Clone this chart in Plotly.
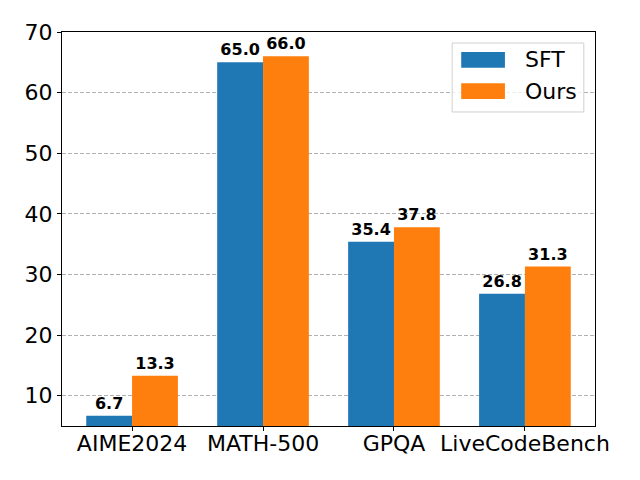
import plotly.graph_objects as go

benchmarks = ['AIME2024', 'MATH-500', 'GPQA', 'LiveCodeBench']
sft_scores = [6.7, 65.0, 35.4, 26.8]
ours_scores = [13.3, 66.0, 37.8, 31.3]
y_ticks = [10, 20, 30, 40, 50, 60, 70]

font_family = 'DejaVu Sans'
series = [('SFT', sft_scores, '#1f77b4'), ('Ours', ours_scores, '#ff7f0e')]

fig = go.Figure()
for name, vals, color in series:
    fig.add_trace(go.Bar(
        x=list(range(len(benchmarks))),
        y=vals,
        name=name,
        marker=dict(color=color, line=dict(width=0)),
        texttemplate='<b>%{y:.1f}</b>',
        textposition='outside',
        textfont=dict(size=16, color='black', family=font_family),
        cliponaxis=False,
        showlegend=False,
    ))

# matplotlib-like legend box, drawn in paper coords
fig.add_shape(type='rect', xref='paper', yref='paper',
              x0=0.732, x1=0.979, y0=0.797, y1=0.972,
              line=dict(color='#d0d0d0', width=1), fillcolor='rgba(255,255,255,0.8)')
for i, (name, _, color) in enumerate(series):
    y_mid = 0.929 - i * 0.079
    fig.add_shape(type='rect', xref='paper', yref='paper',
                  x0=0.749, x1=0.831, y0=y_mid - 0.02, y1=y_mid + 0.02,
                  line=dict(width=0), fillcolor=color)
    fig.add_annotation(xref='paper', yref='paper', x=0.865, y=y_mid,
                       text=name, showarrow=False, xanchor='left', yanchor='middle',
                       font=dict(size=22, color='black', family=font_family))

# page body adds 8px, so margins are shifted by that
fig.update_layout(
    width=640,
    height=480,
    margin=dict(l=54, r=53, t=24, b=62),
    barmode='group',
    bargap=0.3,
    bargroupgap=0,
    plot_bgcolor='white',
    paper_bgcolor='white',
    font=dict(family=font_family, size=22, color='black'),
    xaxis=dict(
        tickmode='array',
        tickvals=list(range(len(benchmarks))),
        ticktext=benchmarks,
        range=[-0.535, 3.535],
        showline=True, linecolor='black', linewidth=1, mirror=True,
        ticks='outside', ticklen=4, tickcolor='black',
        ticklabelstandoff=-6,
        showgrid=False, zeroline=False, automargin=False,
    ),
    yaxis=dict(
        range=[5, 70],
        tickvals=y_ticks,
        showline=True, linecolor='black', linewidth=1, mirror=True,
        ticks='outside', ticklen=4, tickcolor='black',
        ticklabelstandoff=0,
        showgrid=True, gridcolor='#b0b0b0', griddash='4px,2px', gridwidth=0.8,
        zeroline=False, automargin=False,
    ),
)

fig.write_html('out.html')
